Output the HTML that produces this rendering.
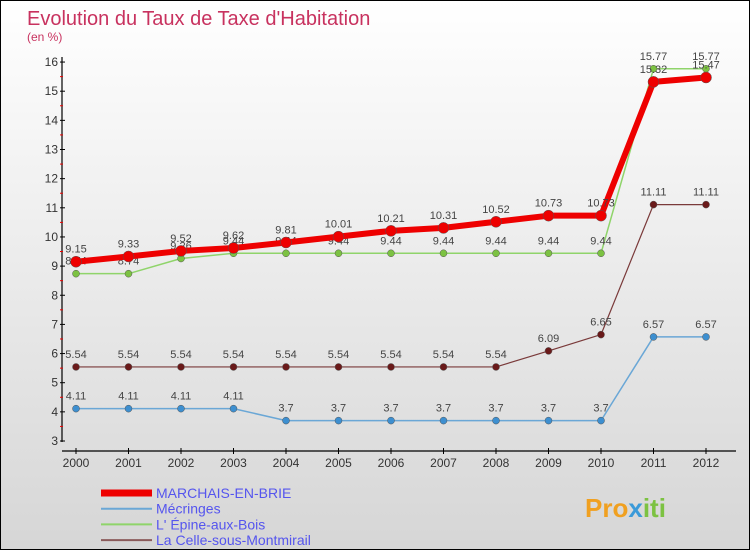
<!DOCTYPE html>
<html><head><meta charset="utf-8"><style>
body{margin:0}
#c{width:750px;height:550px;position:relative;overflow:hidden;box-sizing:border-box;border:1px solid #000;background:linear-gradient(#fff,#d6d6d6);font-family:"Liberation Sans",sans-serif}
svg{position:absolute;left:0;top:0}
</style></head><body>
<div id="c">
<svg id="s" width="750" height="550">
<text x="26" y="24" font-size="20" fill="#c8325f">Evolution du Taux de Taxe d'Habitation</text>
<text x="26" y="40" font-size="12" fill="#c8325f">(en %)</text>
<text x="584" y="516" font-size="26" font-weight="bold" fill="#f0a020">Pro<tspan fill="#3a9ad9">x</tspan><tspan fill="#7cc242">iti</tspan></text>
</svg>
</div>
<script>
const years=[2000,2001,2002,2003,2004,2005,2006,2007,2008,2009,2010,2011,2012];
const marchais=[9.15,9.33,9.52,9.62,9.81,10.01,10.21,10.31,10.52,10.73,10.73,15.32,15.47];
const mecringes=[4.11,4.11,4.11,4.11,3.7,3.7,3.7,3.7,3.7,3.7,3.7,6.57,6.57];
const epine=[8.74,8.74,9.26,9.44,9.44,9.44,9.44,9.44,9.44,9.44,9.44,15.77,15.77];
const celle=[5.54,5.54,5.54,5.54,5.54,5.54,5.54,5.54,5.54,6.09,6.65,11.11,11.11];
const yTicks=[3,4,5,6,7,8,9,10,11,12,13,14,15,16];
const seriesNames=["MARCHAIS-EN-BRIE","Mécringes","L' Épine-aux-Bois","La Celle-sous-Montmirail"];
const NS="http://www.w3.org/2000/svg";
const svg=document.getElementById('s');
const x=i=>75+i*52.5;
const y=v=>440-(v-3)*29.15;
function el(t,a,p){const e=document.createElementNS(NS,t);for(const k in a)e.setAttribute(k,a[k]);(p||svg).appendChild(e);return e;}
const ax=el('line',{x1:61,y1:56,x2:61,y2:441,stroke:'#000','stroke-width':1.2});


const bx=el('line',{x1:61,y1:450,x2:735,y2:450,stroke:'#000','stroke-width':1.2});


yTicks.forEach(v=>{
 el('line',{x1:59,y1:y(v),x2:64,y2:y(v),stroke:'#000'});
 if(v<16){el('line',{x1:59,y1:y(v+0.5),x2:62,y2:y(v+0.5),stroke:'#e00'});}
 const t=el('text',{x:57,y:y(v)+4,'font-size':12,fill:'#333','text-anchor':'end'});
 t.textContent=v;
 
 
});
years.forEach((yr,i)=>{
 el('line',{x1:x(i),y1:447,x2:x(i),y2:453,stroke:'#000'});
 const t=el('text',{x:x(i),y:466,'font-size':12,fill:'#333','text-anchor':'middle'});
 t.textContent=yr;
 
 
});
function series(data,color,w,r,dot,name){
 const g=el('g',{});
 
 
 el('polyline',{points:data.map((v,i)=>x(i)+','+y(v)).join(' '),fill:'none',stroke:color,'stroke-width':w,'stroke-linejoin':'round'},g);
 data.forEach((v,i)=>{
  const c=el('circle',{cx:x(i),cy:y(v),r:r,fill:dot,stroke:'#555','stroke-width':0.5},g);
  
  
  const t=el('text',{x:x(i),y:y(v)-9,'font-size':11,fill:'#444','text-anchor':'middle'},g);
  t.textContent=v;
 });
}
series(mecringes,'#6aa7d6',1.5,3.5,'#3d8fd0','series-mecringes');
series(celle,'#7a3a3a',1.2,3.5,'#6a1a1a','series-la-celle');
series(epine,'#8fd46a',1.5,3.5,'#7cc242','series-epine');
series(marchais,'#ee0000',6,5.5,'#ee0000','series-marchais');
const lc=['#ee0000','#6aa7d6','#8fd46a','#8a5a5a'],lw=[7,2,2,2];
seriesNames.forEach((n,i)=>{
 const ly=492+i*15.7;
 const g=el('g',{});
 
 
 el('line',{x1:100,y1:ly,x2:151,y2:ly,stroke:lc[i],'stroke-width':lw[i]},g);
 const t=el('text',{x:155,y:ly+5,'font-size':14,fill:'#5555ee'},g);
 t.textContent=n;
});
</script>
</body></html>
